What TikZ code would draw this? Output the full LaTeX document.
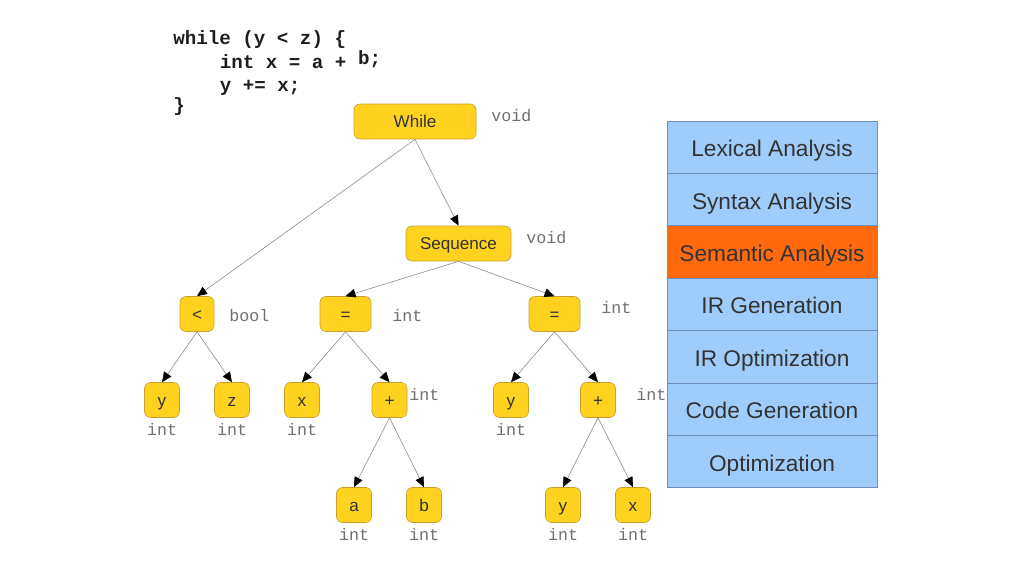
\documentclass[tikz,border=0pt]{standalone}
\usepackage{fontspec}
\setmainfont{Liberation Sans}
\newfontfamily\codefont{Liberation Mono}
\usetikzlibrary{arrows.meta}
\definecolor{nodefill}{HTML}{FFD21F}
\definecolor{nodeline}{HTML}{C9A030}
\definecolor{panelblue}{HTML}{9ECDFB}
\definecolor{panelorange}{HTML}{FF6A0F}
\definecolor{panelline}{HTML}{6F90B8}
\definecolor{txt}{HTML}{333333}
\definecolor{typegray}{HTML}{707070}
\definecolor{edgegray}{HTML}{8C8C8C}
\definecolor{codecol}{HTML}{1E1E1E}
\tikzset{
  tnode/.style={rounded corners=4.5pt, fill=nodefill, draw=nodeline, line width=0.5pt,
    minimum height=26.25pt, minimum width=26.25pt, inner sep=0pt, text=txt,
    text height=9.2pt, text depth=0pt,
    font=\fontsize{12.8}{14}\selectfont},
  ty/.style={text=typegray, inner sep=0pt, font=\codefont\fontsize{12.5}{14}\selectfont},
  codeline/.style={inner sep=0pt, anchor=base west, text=codecol,
    font=\codefont\bfseries\fontsize{14.4}{16}\selectfont},
  phase/.style={draw=panelline, line width=0.6pt, fill=panelblue, minimum width=157.5pt,
    minimum height=39.3pt, inner sep=0pt, text=txt, text height=14.2pt, text depth=0pt,
    font=\fontsize{17}{19}\selectfont},
  edge/.style={draw=edgegray, line width=0.45pt, -{Triangle[length=7.5pt,width=6.5pt,color=black]}}
}
\begin{document}
\begin{tikzpicture}[x=0.75pt,y=-0.75pt]
\useasboundingbox (0,0) rectangle (1024,576);
% code
\node[codeline] (c1) at (173,44) {while (y < z) \{};
\node[codeline] (c2) at (219.5,68.5) {int x = a + \raisebox{3pt}{b;}};
\node[codeline] (c3) at (219.5,91) {y += x;};
\node[codeline] (c4) at (173,111) {\}};
% tree nodes
\node[tnode, minimum width=91.5pt] (while) at (415,121.5) {While};
\node[tnode, minimum width=78.75pt] (seq) at (458.5,243.5) {Sequence};
\node[tnode, minimum width=25.5pt] (lt) at (197,314) {<};
\node[tnode, minimum width=38.25pt] (eqL) at (345.5,314) {=};
\node[tnode, minimum width=38.25pt] (eqR) at (554.5,314) {=};
\node[tnode] (ly) at (162,400) {y};
\node[tnode] (lz) at (232,400) {z};
\node[tnode] (lx) at (302,400) {x};
\node[tnode] (lplus) at (389.5,400) {+};
\node[tnode] (ry) at (511,400) {y};
\node[tnode] (rplus) at (598,400) {+};
\node[tnode] (ba) at (354,505) {a};
\node[tnode] (bb) at (424,505) {b};
\node[tnode] (by) at (563,505) {y};
\node[tnode] (bx) at (633,505) {x};
% type labels
\node[ty, anchor=west] (tWhile) at (491,116) {void};
\node[ty, anchor=west] (tSeq) at (526,238) {void};
\node[ty, anchor=west] (tLt) at (229,316) {bool};
\node[ty, anchor=west] (tEqL) at (392,316) {int};
\node[ty, anchor=west] (tEqR) at (601,308) {int};
\node[ty, anchor=west] (tLplus) at (409,395) {int};
\node[ty, anchor=west] (tRplus) at (636,395) {int};
\node[ty] (tLy) at (162,430) {int};
\node[ty] (tLz) at (232,430) {int};
\node[ty] (tLx) at (302,430) {int};
\node[ty] (tRy) at (511,430) {int};
\node[ty] (tBa) at (354,535) {int};
\node[ty] (tBb) at (424,535) {int};
\node[ty] (tBy) at (563,535) {int};
\node[ty] (tBx) at (633,535) {int};
% edges
\draw[edge] (while.south) -- (lt.north);
\draw[edge] (while.south) -- (seq.north);
\draw[edge] (seq.south) -- (eqL.north);
\draw[edge] (seq.south) -- (eqR.north);
\draw[edge] (lt.south) -- (ly.north);
\draw[edge] (lt.south) -- (lz.north);
\draw[edge] (eqL.south) -- (lx.north);
\draw[edge] (eqL.south) -- (lplus.north);
\draw[edge] (eqR.south) -- (ry.north);
\draw[edge] (eqR.south) -- (rplus.north);
\draw[edge] (lplus.south) -- (ba.north);
\draw[edge] (lplus.south) -- (bb.north);
\draw[edge] (rplus.south) -- (by.north);
\draw[edge] (rplus.south) -- (bx.north);
% phases panel
\node[phase] (lex) at (772,147.2) {Lexical Analysis};
\node[phase] (syn) at (772,199.6) {Syntax Analysis};
\node[phase, fill=panelorange] (sem) at (772,252) {Semantic Analysis};
\node[phase] (irg) at (772,304.4) {IR Generation};
\node[phase] (iro) at (772,356.8) {IR Optimization};
\node[phase] (cg) at (772,409.2) {Code Generation};
\node[phase] (opt) at (772,461.6) {Optimization};
\end{tikzpicture}
\end{document}
